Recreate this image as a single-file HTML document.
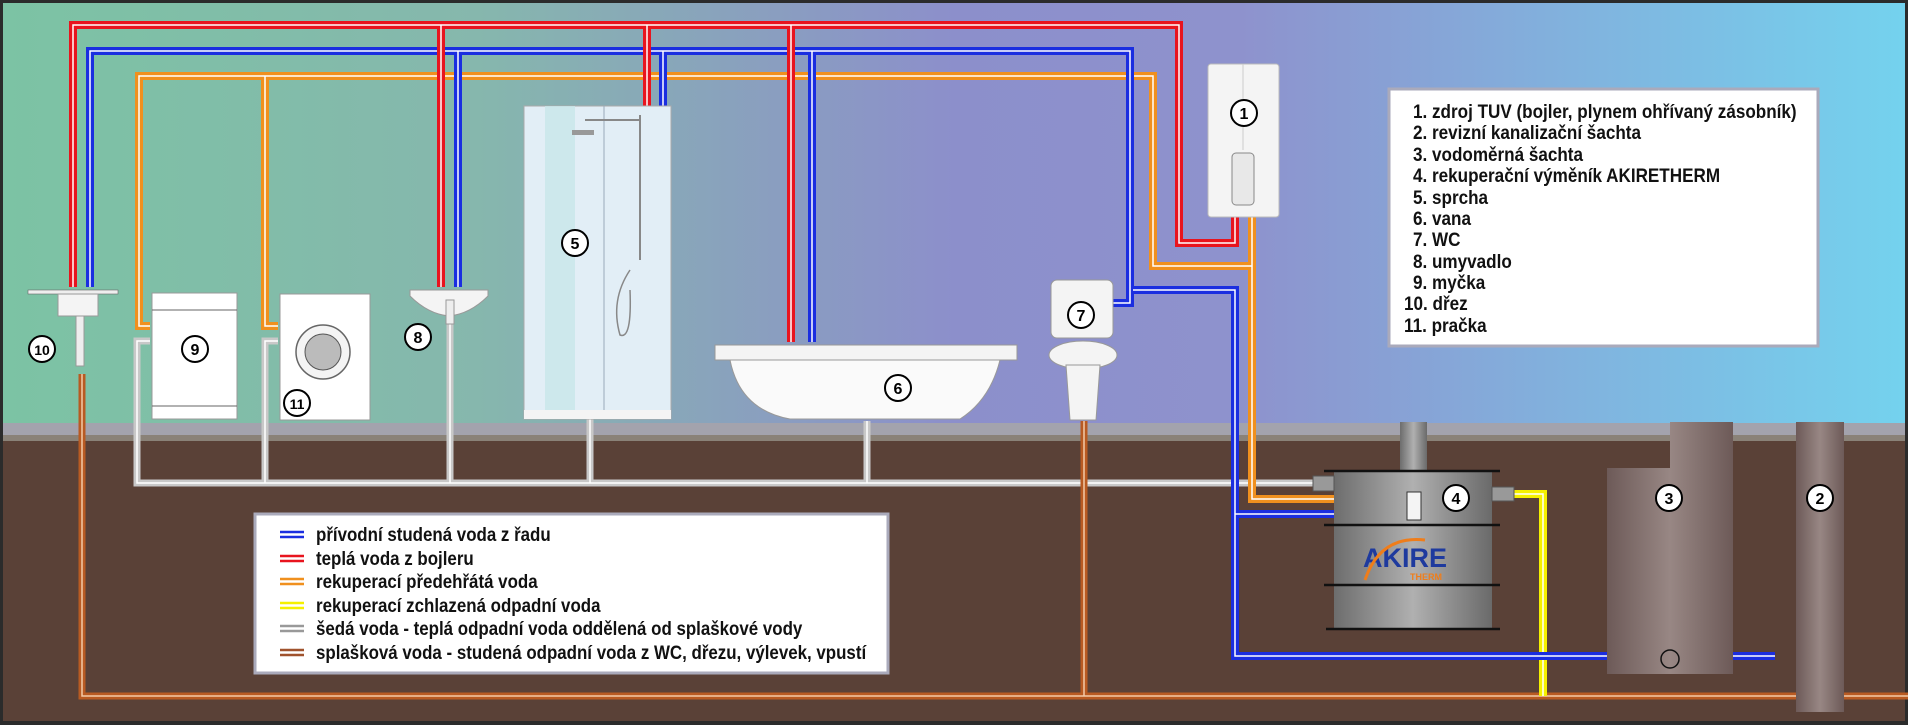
<!DOCTYPE html>
<html><head><meta charset="utf-8"><style>
html,body{margin:0;padding:0;background:#2b2b2b}
svg{display:block}
text{font-family:"Liberation Sans",sans-serif}
</style></head><body>
<svg width="1908" height="725" viewBox="0 0 1908 725" xmlns="http://www.w3.org/2000/svg">
<defs>
<linearGradient id="wall" x1="0" x2="1" y1="0" y2="0">
<stop offset="0" stop-color="#7cc3a4"/>
<stop offset="0.25" stop-color="#86b7ad"/>
<stop offset="0.5" stop-color="#8c8fcb"/>
<stop offset="0.65" stop-color="#8e92cd"/>
<stop offset="1" stop-color="#74d2ee"/>
</linearGradient>
<linearGradient id="tank" x1="0" x2="1"><stop offset="0" stop-color="#6d6d6d"/><stop offset="0.5" stop-color="#b0b0b0"/><stop offset="1" stop-color="#6a6a6a"/></linearGradient>
<linearGradient id="shaft" x1="0" x2="1"><stop offset="0" stop-color="#6d5a58"/><stop offset="0.5" stop-color="#988784"/><stop offset="1" stop-color="#6d5a58"/></linearGradient>
</defs>
<rect width="1908" height="725" fill="#2b2b2b"/>
<rect x="3" y="3" width="1902" height="420" fill="url(#wall)"/>
<rect x="3" y="423" width="1902" height="12" fill="#a3a3ad"/>
<rect x="3" y="435" width="1902" height="6" fill="#8a8278"/>
<rect x="3" y="441" width="1902" height="280" fill="#5a4137"/>

<g fill="none" stroke-linejoin="miter">
<g stroke="#c8c8c8" stroke-width="7">
<path d="M150 341 H137 V483 H1313"/><path d="M278 341 H265 V483"/>
<path d="M450 320 V483"/><path d="M590 411 V483"/><path d="M867 421 V483"/>
</g>
<g stroke="#fff" stroke-width="1.5">
<path d="M150 341 H137 V483 H1313"/><path d="M278 341 H265 V483"/>
<path d="M450 320 V483"/><path d="M590 411 V483"/><path d="M867 421 V483"/>
</g>
<g stroke="#b85a22" stroke-width="7"><path d="M82 374 V696 H1908"/><path d="M1084 421 V696"/></g>
<g stroke="#f3c9a8" stroke-width="1.5"><path d="M82 374 V696 H1908"/><path d="M1084 421 V696"/></g>
<path d="M1500 494 H1543 V696" stroke="#f5f000" stroke-width="8"/>
<path d="M1500 494 H1543 V696" stroke="#fff" stroke-width="1.5"/>
<g stroke="#f0901e" stroke-width="8">
<path d="M150 326 H139 V76 H1153 V266 H1252"/><path d="M278 326 H265 V76"/>
<path d="M1252 217 V499 H1407"/>
</g>
<g stroke="#fff" stroke-width="1.5">
<path d="M150 326 H139 V76 H1153 V266 H1252"/><path d="M278 326 H265 V76"/>
<path d="M1252 217 V499 H1407"/>
</g>
<g stroke="#1a2ee0" stroke-width="8">
<path d="M90 287 V51 H1130 V303 H1113"/>
<path d="M458 287 V51"/><path d="M663 106 V51"/><path d="M812 342 V51"/>
<path d="M1133 290 H1235 V656 H1775"/><path d="M1235 514 H1407"/>
</g>
<g stroke="#fff" stroke-width="1.5">
<path d="M90 287 V51 H1130 V303 H1113"/>
<path d="M458 287 V51"/><path d="M663 106 V51"/><path d="M812 342 V51"/>
<path d="M1133 290 H1235 V656 H1775"/><path d="M1235 514 H1407"/>
</g>
<g stroke="#e8141e" stroke-width="8">
<path d="M73 287 V25 H1179 V243 H1235 V217"/>
<path d="M441 287 V25"/><path d="M647 106 V25"/><path d="M791 342 V25"/>
</g>
<g stroke="#fff" stroke-width="1.5">
<path d="M73 287 V25 H1179 V243 H1235 V217"/>
<path d="M441 287 V25"/><path d="M647 106 V25"/><path d="M791 342 V25"/>
</g>
</g>

<rect x="1208" y="64" width="71" height="153" rx="3" fill="#f4f4f4" stroke="#bbb"/>
<line x1="1243" y1="64" x2="1243" y2="150" stroke="#ccc"/>
<rect x="1232" y="153" width="22" height="52" rx="4" fill="#e8e8e8" stroke="#888"/>
<rect x="28" y="290" width="90" height="4" fill="#eee" stroke="#666" stroke-width="0.6"/>
<rect x="58" y="294" width="40" height="22" fill="#f4f4f4" stroke="#999"/>
<rect x="76" y="316" width="8" height="50" fill="#eee" stroke="#999"/>
<rect x="152" y="293" width="85" height="126" fill="#fff" stroke="#999"/>
<line x1="152" y1="310" x2="237" y2="310" stroke="#666"/>
<line x1="152" y1="406" x2="237" y2="406" stroke="#666"/>
<rect x="280" y="294" width="90" height="126" fill="#fff" stroke="#999"/>
<circle cx="323" cy="352" r="27" fill="#f4f4f4" stroke="#666" stroke-width="1.5"/>
<circle cx="323" cy="352" r="18" fill="#bbb" stroke="#555"/>
<path d="M410 290 H488 V296 Q470 314 449 316 Q428 314 410 296 Z" fill="#f4f4f4" stroke="#999"/>
<rect x="446" y="300" width="8" height="24" fill="#eee" stroke="#999"/>
<rect x="524" y="106" width="147" height="313" fill="#e2eef6" stroke="#aaa"/>
<rect x="545" y="106" width="30" height="313" fill="#c8e6ea" opacity="0.8"/>
<line x1="604" y1="106" x2="604" y2="410" stroke="#9ab"/>
<rect x="524" y="410" width="147" height="9" fill="#f4f4f4"/>
<line x1="640" y1="115" x2="640" y2="260" stroke="#888" stroke-width="2"/>
<path d="M640 120 H585" stroke="#888" stroke-width="2"/>
<rect x="572" y="130" width="22" height="5" fill="#999"/>
<path d="M630 270 Q610 300 620 335 Q632 340 630 290" fill="none" stroke="#888" stroke-width="1.5"/>
<rect x="715" y="345" width="302" height="15" fill="#f4f4f4" stroke="#999"/>
<path d="M730 360 Q740 410 790 419 H960 Q990 400 1000 360 Z" fill="#fafafa" stroke="#999"/>
<rect x="1051" y="280" width="62" height="58" rx="6" fill="#f4f4f4" stroke="#999"/>
<ellipse cx="1083" cy="355" rx="34" ry="14" fill="#f4f4f4" stroke="#999"/>
<path d="M1066 365 H1100 L1096 420 H1070 Z" fill="#f4f4f4" stroke="#999"/>
<rect x="1400" y="422" width="27" height="50" fill="url(#tank)"/>
<rect x="1334" y="471" width="158" height="158" fill="url(#tank)"/>
<rect x="1313" y="476" width="21" height="15" fill="#999" stroke="#555"/>
<rect x="1492" y="487" width="22" height="14" fill="#999" stroke="#555"/>
<g stroke="#111" stroke-width="2.5"><line x1="1324" y1="471" x2="1500" y2="471"/><line x1="1324" y1="525" x2="1500" y2="525"/><line x1="1324" y1="585" x2="1500" y2="585"/><line x1="1326" y1="629" x2="1500" y2="629"/></g>
<rect x="1407" y="492" width="14" height="28" fill="#f4f4f4" stroke="#333"/>
<text x="1363" y="567" font-size="27" font-weight="bold" fill="#1e3a9e">AKIRE</text>
<text x="1410" y="580" font-size="9" font-weight="bold" fill="#ef7d1a">THERM</text>
<path d="M1365 580 Q1380 535 1425 540" fill="none" stroke="#ef7d1a" stroke-width="3"/>
<path d="M1670 422 H1733 V674 H1607 V468 H1670 Z" fill="url(#shaft)"/>
<rect x="1796" y="422" width="48" height="290" fill="url(#shaft)"/>
<circle cx="1670" cy="659" r="9" fill="none" stroke="#111" stroke-width="1.5"/>

<g font-size="16" font-weight="bold" text-anchor="middle" fill="#000">
<g fill="#fff" stroke="#000" stroke-width="2">
<circle cx="1244" cy="113" r="13"/><circle cx="1820" cy="498" r="13"/><circle cx="1669" cy="498" r="13"/>
<circle cx="1456" cy="498" r="13"/><circle cx="575" cy="243" r="13"/><circle cx="898" cy="388" r="13"/>
<circle cx="1081" cy="315" r="13"/><circle cx="418" cy="337" r="13"/><circle cx="195" cy="349" r="13"/>
<circle cx="42" cy="349" r="13"/><circle cx="297" cy="403" r="13"/>
</g>
<text x="1244" y="119">1</text><text x="1820" y="504">2</text><text x="1669" y="504">3</text>
<text x="1456" y="504">4</text><text x="575" y="249">5</text><text x="898" y="394">6</text>
<text x="1081" y="321">7</text><text x="418" y="343">8</text><text x="195" y="355">9</text>
<text x="42" y="355" font-size="14">10</text><text x="297" y="409" font-size="14">11</text>
</g>

<rect x="1389" y="89" width="429" height="257" fill="#fff" stroke="#aab" stroke-width="3"/>
<g font-size="19" font-weight="bold" fill="#111" transform="translate(1413 0) scale(0.9 1)">
<text x="0" y="118">1. zdroj TUV (bojler, plynem ohřívaný zásobník)</text>
<text x="0" y="139">2. revizní kanalizační šachta</text>
<text x="0" y="161">3. vodoměrná šachta</text>
<text x="0" y="182">4. rekuperační výměník AKIRETHERM</text>
<text x="0" y="204">5. sprcha</text>
<text x="0" y="225">6. vana</text>
<text x="0" y="246">7. WC</text>
<text x="0" y="268">8. umyvadlo</text>
<text x="0" y="289">9. myčka</text>
<text x="-10" y="310">10. dřez</text>
<text x="-10" y="332">11. pračka</text>
</g>
<rect x="255" y="514" width="633" height="159" fill="#fff" stroke="#aab" stroke-width="3"/>
<g stroke-width="2.5">
<g stroke="#1a2ee0"><line x1="280" y1="532" x2="304" y2="532"/><line x1="280" y1="537" x2="304" y2="537"/></g>
<g stroke="#e8141e"><line x1="280" y1="556" x2="304" y2="556"/><line x1="280" y1="561" x2="304" y2="561"/></g>
<g stroke="#f0901e"><line x1="280" y1="579" x2="304" y2="579"/><line x1="280" y1="584" x2="304" y2="584"/></g>
<g stroke="#f5f000"><line x1="280" y1="603" x2="304" y2="603"/><line x1="280" y1="608" x2="304" y2="608"/></g>
<g stroke="#999"><line x1="280" y1="626" x2="304" y2="626"/><line x1="280" y1="631" x2="304" y2="631"/></g>
<g stroke="#a0522d"><line x1="280" y1="650" x2="304" y2="650"/><line x1="280" y1="655" x2="304" y2="655"/></g>
</g>
<g font-size="19" font-weight="bold" fill="#111" transform="translate(316 0) scale(0.89 1)">
<text x="0" y="541">přívodní studená voda z řadu</text>
<text x="0" y="565">teplá voda z bojleru</text>
<text x="0" y="588">rekuperací předehřátá voda</text>
<text x="0" y="612">rekuperací zchlazená odpadní voda</text>
<text x="0" y="635">šedá voda - teplá odpadní voda oddělená od splaškové vody</text>
<text x="0" y="659">splašková voda - studená odpadní voda z WC, dřezu, výlevek, vpustí</text>
</g>
</svg>
</body></html>
